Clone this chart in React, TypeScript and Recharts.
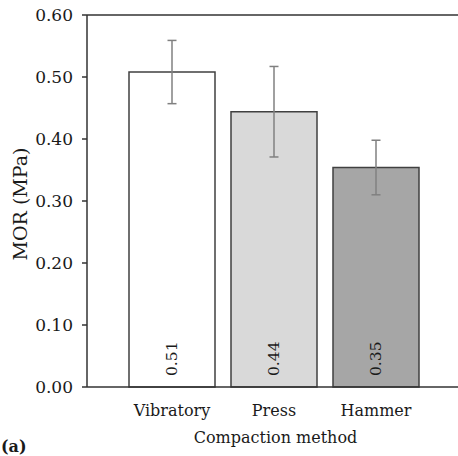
import React from 'react';
import { BarChart, Bar, XAxis, YAxis, Cell, ErrorBar, LabelList, ReferenceLine, Label } from 'recharts';

const categories = ['Vibratory', 'Press', 'Hammer'];
const morValues = [0.508, 0.444, 0.354];
const morErrors = [0.051, 0.073, 0.044];
const barColors = ['#ffffff', '#d9d9d9', '#a6a6a6'];
const yTicks = [0, 0.1, 0.2, 0.3, 0.4, 0.5, 0.6];

const data = categories.map((c, i) => ({ name: c, mor: morValues[i], err: morErrors[i] }));

const FONT = "'DejaVu Serif', serif";
const TEXT = '#1a1a1a';

const ValueLabel = (props: any) => {
  const { x, y, width, height, value } = props;
  const cx = x + width / 2;
  const cy = y + height - 11;
  return (
    <text
      x={cx}
      y={cy}
      transform={`rotate(-90, ${cx}, ${cy})`}
      textAnchor="start"
      dominantBaseline="central"
      fontFamily={FONT}
      fontSize={15.5}
      fill={TEXT}
    >
      {Number(value).toFixed(2)}
    </text>
  );
};

const XTitle = (props: any) => {
  const vb = props.viewBox || {};
  return (
    <text
      x={vb.x + vb.width / 2 + 3}
      y={vb.y + 56}
      textAnchor="middle"
      fontFamily={FONT}
      fontSize={16}
      fill={TEXT}
    >
      Compaction method
    </text>
  );
};

export default function App() {
  return (
    <div style={{ position: 'absolute', left: 0, top: 0, width: 458, height: 456, overflow: 'hidden', background: '#fff' }}>
      <BarChart width={458} height={456} data={data} margin={{ top: 15, right: 0, bottom: 0, left: 0 }}>
        <XAxis
          dataKey="name"
          padding={{ left: 34, right: 31 }}
          height={69}
          tickLine={false}
          tickSize={0}
          tickMargin={18}
          axisLine={{ stroke: '#333', strokeWidth: 1.5 }}
          tick={{ fontFamily: FONT, fontSize: 16, fill: TEXT }}
        >
          <Label content={XTitle} />
        </XAxis>
        <YAxis
          domain={[0, 0.6]}
          ticks={yTicks}
          width={87}
          tickSize={5}
          tickMargin={9}
          interval={0}
          tickFormatter={(v: number) => v.toFixed(2)}
          axisLine={{ stroke: '#333', strokeWidth: 1.5 }}
          tickLine={{ stroke: '#333', strokeWidth: 1.5 }}
          tick={{ fontFamily: FONT, fontSize: 17, fill: TEXT }}
        >
          <Label
            value="MOR (MPa)"
            angle={-90}
            position="insideLeft"
            offset={20}
            dy={3}
            style={{ textAnchor: 'middle', fontFamily: FONT, fontSize: 19, fill: TEXT }}
          />
        </YAxis>
        <ReferenceLine y={0.6} stroke="#333" strokeWidth={1.5} />
        <Bar dataKey="mor" barSize={86} stroke="#404040" strokeWidth={1.5} isAnimationActive={false}>
          {data.map((d, i) => (
            <Cell key={d.name} fill={barColors[i]} />
          ))}
          <ErrorBar dataKey="err" width={4.5} stroke="#808080" strokeWidth={1.5} isAnimationActive={false} />
          <LabelList dataKey="mor" content={ValueLabel} />
        </Bar>
      </BarChart>
      <svg width={458} height={456} style={{ position: 'absolute', left: 0, top: 0, pointerEvents: 'none' }}>
        <text x={1} y={452} fontFamily={FONT} fontSize={16} fontWeight="bold" fill={TEXT}>(a)</text>
      </svg>
    </div>
  );
}
